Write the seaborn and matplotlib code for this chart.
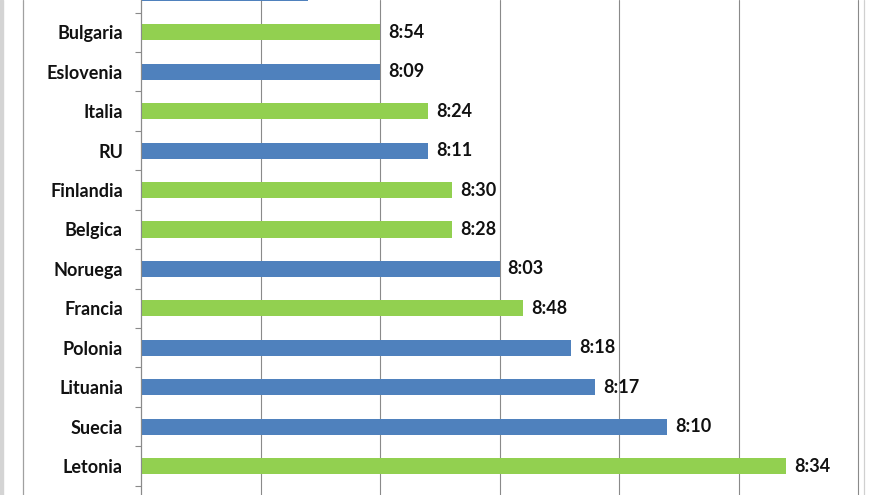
import matplotlib
matplotlib.use("Agg")
import matplotlib.pyplot as plt
import seaborn as sns
import pandas as pd
from matplotlib.lines import Line2D
from matplotlib.patches import Rectangle

countries = ["España", "Bulgaria", "Eslovenia", "Italia", "RU", "Finlandia", "Belgica",
             "Noruega", "Francia", "Polonia", "Lituania", "Suecia", "Letonia"]
values = [7, 10, 10, 12, 12, 13, 13, 15, 16, 18, 19, 22, 27]
groups = ["b", "g", "b", "g", "b", "g", "g", "b", "g", "b", "b", "b", "g"]
labels = ["8:42", "8:54", "8:09", "8:24", "8:11", "8:30", "8:28", "8:03", "8:48",
          "8:18", "8:17", "8:10", "8:34"]

GREEN = "#92D050"
BLUE = "#4F81BD"
colors = [GREEN if g == "g" else BLUE for g in groups]

df = pd.DataFrame({"country": countries, "value": values})

sns.set_theme(style="white")
plt.rcParams["font.family"] = ["Lato", "DejaVu Sans"]

fig = plt.figure(figsize=(8.8, 4.95), dpi=100)
ax = fig.add_axes([141 / 880, 0, (858 - 141) / 880, 1])

sns.barplot(data=df, x="value", y="country", hue="country", palette=colors,
            width=0.41, legend=False, ax=ax, saturation=1, linewidth=0)

for cont, lab in zip(ax.containers, labels):
    ax.bar_label(cont, labels=[lab], padding=5.8, fontsize=13,
                 fontweight="bold", color="#111111")

ax.set_xticks([0, 5, 10, 15, 20, 25, 30])
ax.tick_params(axis="x", bottom=False, labelbottom=False)
ax.xaxis.grid(True, color="#8a8a8a", linewidth=0.8)
for ln in ax.get_xgridlines():
    ln.set_clip_on(False)
ax.set_axisbelow(True)
ax.set_xlabel("")
ax.set_ylabel("")

ax.set_yticks(range(len(countries)))
ax.set_yticklabels(countries, fontsize=13, fontweight="bold", color="#111111")
ax.tick_params(axis="y", which="major", length=0, pad=13)
ax.set_yticks([i + 0.5 for i in range(-1, len(countries))], minor=True)
ax.tick_params(axis="y", which="minor", length=4, width=0.8, color="#8a8a8a", left=True)

ax.set_xlim(0, 30)
ax.set_ylim(12.734, 0.18)

for s in ["top", "right", "bottom"]:
    ax.spines[s].set_visible(False)
ax.spines["left"].set_color("#8a8a8a")
ax.spines["left"].set_linewidth(0.8)

# chart frame lines and outer strip
fig.add_artist(Line2D([22.5 / 880, 22.5 / 880], [0, 1], color="#a0a0a0", linewidth=0.9))
fig.add_artist(Line2D([863.5 / 880, 863.5 / 880], [0, 1], color="#d0d0d0", linewidth=0.9))
fig.add_artist(Rectangle((0, 0), 3 / 880, 1, color="#d4d4d4", transform=fig.transFigure))

fig.savefig("out.png", dpi=100)
